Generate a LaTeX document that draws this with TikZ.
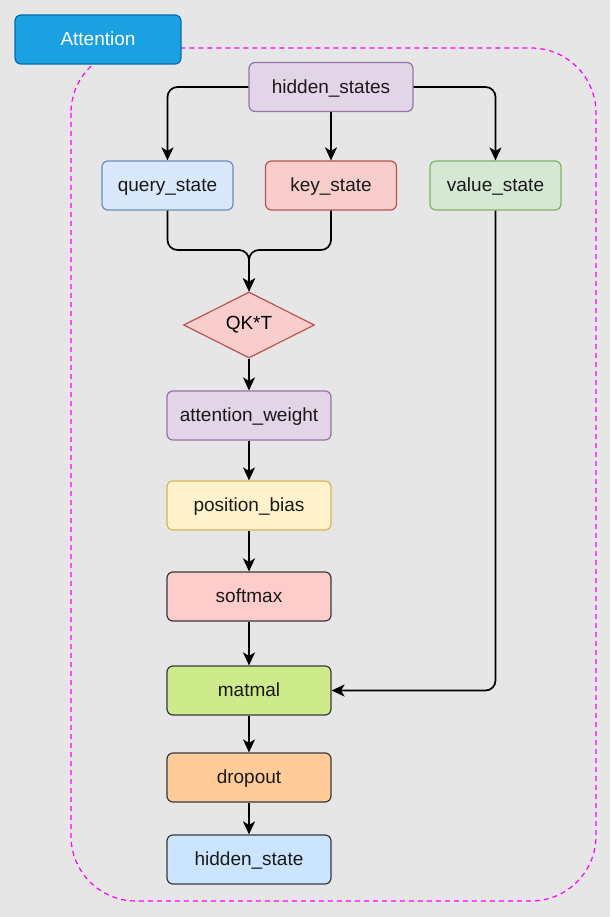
\documentclass[tikz,border=0pt]{standalone}
\usepackage{fontspec}
\setmainfont{Liberation Sans}
\usepackage{tikz}
\usetikzlibrary{positioning, shapes.geometric, arrows.meta, calc}

\definecolor{bgGray}{HTML}{E6E6E6}
\definecolor{titleFill}{HTML}{1BA1E2}
\definecolor{titleLine}{HTML}{006EAF}
\definecolor{purpleFill}{HTML}{E1D5E7}
\definecolor{purpleLine}{HTML}{9673A6}
\definecolor{blueFill}{HTML}{DAE8FC}
\definecolor{blueLine}{HTML}{6C8EBF}
\definecolor{redFill}{HTML}{F8CECC}
\definecolor{redLine}{HTML}{B85450}
\definecolor{greenFill}{HTML}{D5E8D4}
\definecolor{greenLine}{HTML}{82B366}
\definecolor{yellowFill}{HTML}{FFF2CC}
\definecolor{yellowLine}{HTML}{D6B656}
\definecolor{darkLine}{HTML}{36393D}
\definecolor{frameMagenta}{HTML}{FF00FF}

\begin{document}
\begin{tikzpicture}[
    x=1pt, y=-1pt,
    font=\fontsize{19}{23}\selectfont,
    box/.style={rectangle, rounded corners=6pt, line width=1.2pt, inner sep=0pt,
        minimum height=49pt, text height=14pt, text depth=1.5pt, text=black!90},
    widebox/.style={box, minimum width=164pt},
    smallbox/.style={box, minimum width=131pt},
    flow/.style={-{Stealth[length=13pt, width=12pt, inset=3.5pt]}, line width=1.7pt,
        rounded corners=10pt}
]
    % background and dashed frame
    \fill[bgGray] (0,0) rectangle (610,917);
    \useasboundingbox (0,0) rectangle (610,917);
    \draw[frameMagenta, line width=1.2pt, dash pattern=on 5pt off 4pt, rounded corners=65pt]
        (71,48) rectangle (596,901);

    % title
    \node[box, fill=titleFill, draw=titleLine, minimum width=166pt, text=white]
        (title) at (98,39.5) {Attention};

    % inputs
    \node[widebox, fill=purpleFill, draw=purpleLine] (hs) at (331,87) {hidden\_states};
    \node[smallbox, fill=blueFill, draw=blueLine] (qs) at (167.5,185.5) {query\_state};
    \node[smallbox, fill=redFill, draw=redLine] (ks) at (331,185.5) {key\_state};
    \node[smallbox, fill=greenFill, draw=greenLine] (vs) at (495.5,185.5) {value\_state};

    % score path
    \node[diamond, fill=redFill, draw=redLine, line width=1.2pt, inner sep=0pt,
        minimum width=131pt, minimum height=66pt] (qk) at (249,325) {QK*T};
    \node[widebox, fill=purpleFill, draw=purpleLine] (aw) at (249,415.5) {attention\_weight};
    \node[widebox, fill=yellowFill, draw=yellowLine] (pb) at (249,505.5) {position\_bias};
    \node[widebox, fill=red!20, draw=darkLine] (sm) at (249,596.5) {softmax};
    \node[widebox, fill={rgb,255:red,205;green,235;blue,139}, draw=darkLine] (mm) at (249,690.5) {matmal};
    \node[widebox, fill={rgb,255:red,255;green,204;blue,153}, draw=darkLine] (dp) at (249,777.5) {dropout};
    \node[widebox, fill={rgb,255:red,204;green,229;blue,255}, draw=darkLine] (out) at (249,859.5) {hidden\_state};

    \coordinate (merge) at (249,250);

    % connectors
    \draw[flow] (hs.west) -| (qs.north);
    \draw[flow] (hs.south) -- (ks.north);
    \draw[flow] (hs.east) -| (vs.north);
    \draw[flow] (qs.south) |- (merge) -- (qk.north);
    \draw[flow] (ks.south) |- (merge) -- (qk.north);
    \draw[flow] (qk.south) -- (aw.north);
    \draw[flow] (aw.south) -- (pb.north);
    \draw[flow] (pb.south) -- (sm.north);
    \draw[flow] (sm.south) -- (mm.north);
    \draw[flow] (vs.south) |- (mm.east);
    \draw[flow] (mm.south) -- (dp.north);
    \draw[flow] (dp.south) -- (out.north);
\end{tikzpicture}
\end{document}
